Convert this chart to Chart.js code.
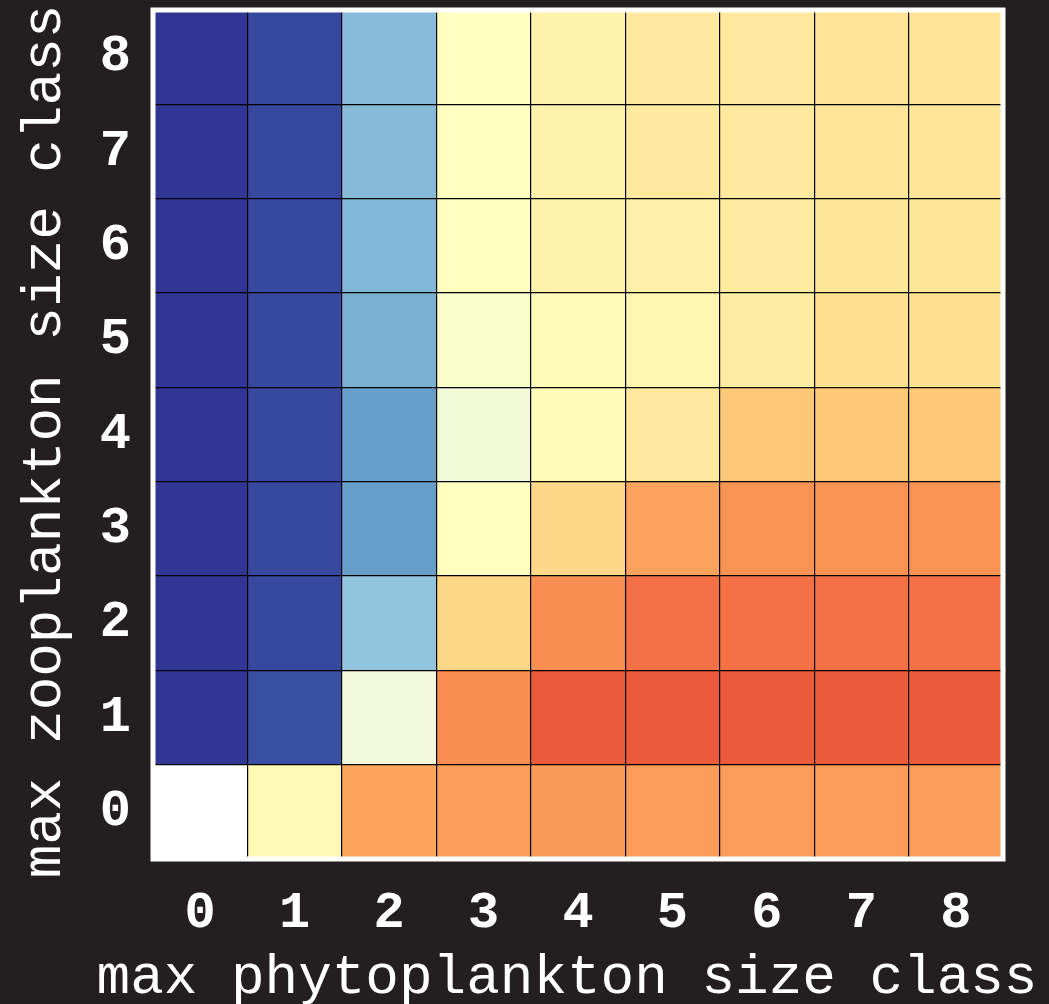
<!DOCTYPE html>
<html>
<head>
<meta charset="utf-8">
<title>Max zooplankton vs phytoplankton size class</title>
<script src="https://cdn.jsdelivr.net/npm/chart.js@4.4.1/dist/chart.umd.min.js"></script>
<style>
  html, body { margin: 0; padding: 0; background: #231f20; }
  #wrap { width: 1049px; height: 1004px; }
</style>
</head>
<body>
<div id="wrap"><canvas id="heat" width="1049" height="1004"></canvas></div>
<script>
// Size classes on both axes
const phytoClasses = ['0', '1', '2', '3', '4', '5', '6', '7', '8'];
const zooClasses = ['0', '1', '2', '3', '4', '5', '6', '7', '8'];

// Cell values (0..1 on the colour scale), one array per zooplankton class,
// indexed by phytoplankton class; null = no data
const zoo0 = [null, 0.52, 0.713, 0.725, 0.728, 0.726, 0.726, 0.726, 0.726];
const zoo1 = [0.0, 0.04, 0.45, 0.75, 0.83, 0.83, 0.83, 0.83, 0.83];
const zoo2 = [0.0, 0.03, 0.255, 0.62, 0.75, 0.795, 0.795, 0.795, 0.795];
const zoo3 = [0.0, 0.03, 0.175, 0.5, 0.615, 0.717, 0.742, 0.742, 0.742];
const zoo4 = [0.0, 0.03, 0.175, 0.46, 0.51, 0.57, 0.648, 0.648, 0.648];
const zoo5 = [0.0, 0.03, 0.21, 0.48, 0.51, 0.53, 0.56, 0.6, 0.6];
const zoo6 = [0.0, 0.03, 0.223, 0.5, 0.54, 0.545, 0.565, 0.58, 0.58];
const zoo7 = [0.0, 0.03, 0.23, 0.5, 0.54, 0.568, 0.57, 0.585, 0.585];
const zoo8 = [0.0, 0.03, 0.232, 0.5, 0.542, 0.568, 0.57, 0.587, 0.587];
const cellRows = [zoo0, zoo1, zoo2, zoo3, zoo4, zoo5, zoo6, zoo7, zoo8];

// Reversed red-yellow-blue diverging palette, evenly spaced stops
const PALETTE = [
  [49, 54, 149], [69, 117, 180], [116, 173, 209], [171, 217, 233],
  [224, 243, 248], [255, 255, 191], [254, 224, 144], [253, 174, 97],
  [244, 109, 67], [215, 48, 39], [165, 0, 38]
];
function colourFor(v) {
  if (v === null || v === undefined) return 'rgba(0,0,0,0)';
  const t = Math.max(0, Math.min(1, v)) * (PALETTE.length - 1);
  const i = Math.min(PALETTE.length - 2, Math.floor(t));
  const f = t - i;
  const a = PALETTE[i], b = PALETTE[i + 1];
  const c = a.map((x, k) => Math.round(x + (b[k] - x) * f));
  return `rgb(${c[0]},${c[1]},${c[2]})`;
}

const BG = '#231f20';
const TICK_FONT = { family: '"Liberation Mono", "DejaVu Sans Mono", monospace', size: 52, weight: 'bold' };
const TITLE_FONT = '56px "Liberation Mono", "DejaVu Sans Mono", monospace';

// One floating-bar dataset per zooplankton row; each bar spans one cell height
const datasets = cellRows.map((row, r) => ({
  label: 'zoo ' + zooClasses[r],
  data: row.map(v => (v === null ? null : [r - 0.5, r + 0.5])),
  backgroundColor: row.map(colourFor),
  borderWidth: 0,
  barPercentage: 1.0,
  categoryPercentage: 1.0,
  grouped: false,
  yAxisID: 'y'
}));

const framePlugin = {
  id: 'frame',
  beforeDraw(chart) {
    const { ctx, width, height } = chart;
    ctx.save();
    ctx.fillStyle = BG;
    ctx.fillRect(0, 0, width, height);
    ctx.restore();
  },
  beforeDatasetsDraw(chart) {
    const { ctx, chartArea: a } = chart;
    ctx.save();
    ctx.fillStyle = '#ffffff';
    ctx.fillRect(a.left, a.top, a.right - a.left, a.bottom - a.top);
    ctx.restore();
  },
  afterDraw(chart) {
    const { ctx, chartArea: a } = chart;
    ctx.save();
    // white spine around the plotting area
    ctx.strokeStyle = '#ffffff';
    ctx.lineWidth = 5;
    ctx.strokeRect(a.left, a.top, a.right - a.left, a.bottom - a.top);
    // axis titles
    ctx.fillStyle = '#ffffff';
    ctx.font = TITLE_FONT;
    ctx.textAlign = 'center';
    ctx.textBaseline = 'alphabetic';
    ctx.fillText('max phytoplankton size class', (a.left + a.right) / 2 - 11, 993);
    ctx.translate(60, (a.top + a.bottom) / 2 + 7);
    ctx.rotate(-Math.PI / 2);
    ctx.fillText('max zooplankton size class', 0, 0);
    ctx.restore();
  }
};

function hideEdges(ctx, lastValue) {
  if (ctx.type !== 'tick') return 'rgba(0,0,0,0)';
  if (ctx.tick && typeof ctx.tick.value === 'number' && lastValue !== undefined) {
    if (ctx.tick.value === 0 || ctx.tick.value === lastValue) return 'rgba(0,0,0,0)';
    return '#000000';
  }
  return ctx.index === 0 ? 'rgba(0,0,0,0)' : '#000000';
}

function noEdgePadding(scale) {
  scale.paddingTop = 0;
  scale.paddingBottom = 0;
  scale.paddingLeft = 0;
  scale.paddingRight = 0;
}

new Chart(document.getElementById('heat'), {
  type: 'bar',
  data: { labels: phytoClasses, datasets },
  plugins: [framePlugin],
  options: {
    responsive: false,
    animation: false,
    devicePixelRatio: 1,
    layout: { padding: { top: 10, right: 46, left: 0, bottom: 0 } },
    plugins: { legend: { display: false }, tooltip: { enabled: false } },
    scales: {
      x: {
        type: 'category',
        offset: true,
        border: { display: false },
        grid: {
          offset: true,
          drawTicks: false,
          z: 1,
          lineWidth: 1.2,
          color: (ctx) => hideEdges(ctx)
        },
        ticks: { color: '#ffffff', font: TICK_FONT, padding: 24, maxRotation: 0, autoSkip: false },
        afterFit(scale) { scale.height = 145; noEdgePadding(scale); }
      },
      y: {
        type: 'linear',
        position: 'left',
        min: -0.5,
        max: 8.5,
        border: { display: false },
        grid: { display: false, drawTicks: false },
        // one tick per zooplankton class, at the cell centres
        afterBuildTicks(scale) {
          scale.ticks = zooClasses.map((_, i) => ({ value: i }));
        },
        ticks: {
          color: '#ffffff',
          font: TICK_FONT,
          padding: 22,
          autoSkip: false,
          callback: (v) => zooClasses[Math.round(v)]
        },
        afterFit(scale) { scale.width = 153; noEdgePadding(scale); }
      },
      yCells: {
        type: 'linear',
        position: 'left',
        min: 0,
        max: 9,
        border: { display: false },
        grid: {
          drawTicks: false,
          z: 1,
          lineWidth: 1.2,
          color: (ctx) => hideEdges(ctx, 9)
        },
        ticks: { display: false, stepSize: 1 },
        afterFit(scale) { scale.width = 0; noEdgePadding(scale); }
      }
    }
  }
});
</script>
</body>
</html>
